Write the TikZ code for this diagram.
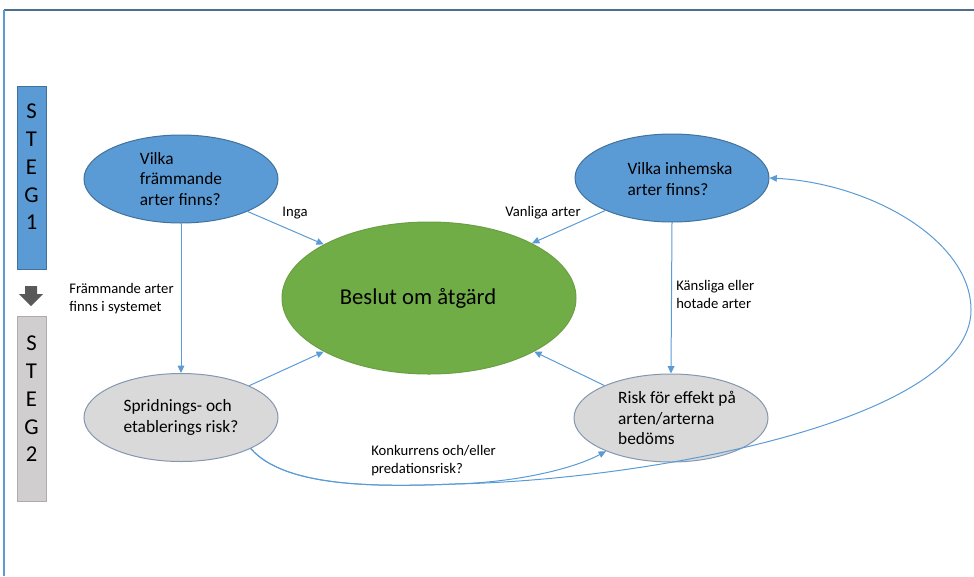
\documentclass[tikz,border=0pt]{standalone}
\usepackage{fontspec}
\setmainfont{Carlito}
\usetikzlibrary{shapes.geometric,arrows.meta}
\definecolor{bfill}{HTML}{5B9BD5}
\definecolor{bdraw}{HTML}{41719C}
\definecolor{gfill}{HTML}{70AD47}
\definecolor{gdraw}{HTML}{6A9F44}
\definecolor{grfill}{HTML}{D9D9D9}
\definecolor{grdraw}{HTML}{8497B0}
\definecolor{stegtwo}{HTML}{D0CECE}
\definecolor{stegtwodraw}{HTML}{AFABAB}
\definecolor{framec}{HTML}{4A6F8F}
\definecolor{darkarrow}{HTML}{595959}
\tikzset{
  ellbase/.style={ellipse, inner sep=0pt, line width=0.75pt},
  blueell/.style={ellbase, fill=bfill, draw=bdraw, minimum width=145.5pt, minimum height=66pt},
  grayell/.style={ellbase, fill=grfill, draw=grdraw, minimum width=145.5pt, minimum height=66pt},
  greenell/.style={ellbase, fill=gfill, draw=gdraw, minimum width=220.5pt, minimum height=114pt},
  etext/.style={align=left, font=\fontsize{13pt}{15.5pt}\selectfont, inner sep=0pt},
  ltext/.style={align=left, font=\fontsize{11pt}{13.5pt}\selectfont, inner sep=0pt},
  conn/.style={draw=bfill, line width=0.75pt, -{Triangle[length=5.5pt,width=5pt]}},
  stegbox/.style={line width=0.75pt, minimum width=21.75pt, minimum height=137.5pt, inner sep=0pt},
  stegtext/.style={align=center, font=\fontsize{17pt}{20.8pt}\selectfont, inner sep=0pt}
}
\begin{document}
\begin{tikzpicture}[x=0.75pt,y=-0.75pt]
\useasboundingbox (0,0) rectangle (974,576);
% frame
\draw[framec, line width=1.5pt] (4,10) -- (974,10);
\draw[bfill, line width=0.9pt] (4,10) -- (4,576);
% STEG boxes
\node[stegbox, fill=bfill, draw=bdraw, anchor=north west] (s1) at (17,86) {};
\node[stegtext, anchor=north] (s1t) at (31.5,104) {S\\T\\E\\G\\1};
\node[stegbox, fill=stegtwo, draw=stegtwodraw, anchor=north west, minimum height=138.75pt] (s2) at (17,316) {};
\node[stegtext, anchor=north] (s2t) at (31.5,336) {S\\T\\E\\G\\2};
\fill[darkarrow] (25,286) -- (37,286) -- (37,294) -- (43,294) -- (31,306) -- (19,294) -- (25,294) -- cycle;
% ellipses
\node[blueell] (ef) at (181,179) {};
\node[etext] at (ef.center) {Vilka\\främmande\\arter finns?};
\node[blueell] (ei) at (672,178) {};
\node[etext] at (680,179) {Vilka inhemska\\arter finns?};
\node[greenell] (gn) at (429,298) {};
\node[font=\fontsize{17pt}{20pt}\selectfont, inner sep=0pt] at (418,298) {Beslut om åtgärd};
\node[grayell] (gl) at (181,417.5) {};
\node[etext] at (gl.center) {Spridnings- och\\etablerings risk?};
\node[grayell] (gr) at (671,418) {};
\node[etext] at (677,418) {Risk för effekt på\\arten/arterna\\bedöms};
% connectors
\draw[conn] (ef.-26) -- (gn.153);
\draw[conn] (ei.-154) -- (gn.28);
\draw[conn] (gl.25) -- (gn.-153);
\draw[conn] (gr.154) -- (gn.-27);
\draw[conn] (ef.south) -- (gl.north);
\draw[conn] (ei.south) -- (gr.north);
\draw[conn] (gl.-24) .. controls (285,488) and (380,487) .. (455,484)
  .. controls (520,482) and (575,468) .. (gr.-153);
\draw[conn] (gl.-24) .. controls (285,488) and (380,487) .. (455,484)
  .. controls (650,480) and (971,420) .. (971,310)
  .. controls (971,240) and (870,183) .. (ei.east);
% labels
\node[ltext] at (295,213) {Inga};
\node[ltext] at (543,213) {Vanliga arter};
\node[ltext, anchor=west] at (69,299) {Främmande arter\\finns i systemet};
\node[ltext, anchor=west] at (676,294) {Känsliga eller\\hotade arter};
\node[ltext, anchor=west] at (371,461) {Konkurrens och/eller\\predationsrisk?};
\end{tikzpicture}
\end{document}
